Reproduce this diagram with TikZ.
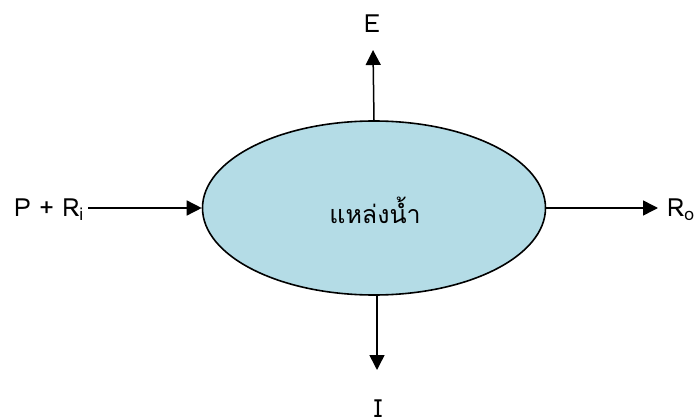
\documentclass[tikz,border=0pt]{standalone}
\usepackage{fontspec}
\setmainfont[Script=Thai]{Loma}
\usetikzlibrary{shapes.geometric,arrows.meta}
\definecolor{waterblue}{HTML}{B4DCE6}
\tikzset{
  arr/.style={line width=1.5pt,-{Triangle[length=15pt,width=15pt]}},
  lbl/.style={font=\fontsize{25}{30}\selectfont,inner sep=0pt},
}
\begin{document}
\begin{tikzpicture}[x=1pt,y=-1pt]
\useasboundingbox (0,0) rectangle (696,417);
\node[ellipse,draw,line width=1.6pt,fill=waterblue,minimum width=343pt,minimum height=174pt,inner sep=0pt] (water) at (374,208) {};
\node[lbl] (wtxt) at (375,210) {แหล่งน้ำ};
\node[lbl,anchor=east] (P) at (84,210) {P + R\textsubscript{i}};
\node[lbl,anchor=west] (Ro) at (667,210) {R\textsubscript{o}};
\node[lbl] (E) at (372,24) {E};
\node[lbl,anchor=north] (I) at (378,400) {I};
\coordinate (pend) at (88,208);
\coordinate (rotip) at (658,208);
\coordinate (etip) at (373,50);
\coordinate (itip) at (377,370);
\draw[arr] (pend) -- (water.west);
\draw[arr] (water.east) -- (rotip);
\draw[arr] (water.north) -- (etip);
\draw[arr] (itip |- water.south) -- (itip);
\end{tikzpicture}
\end{document}
